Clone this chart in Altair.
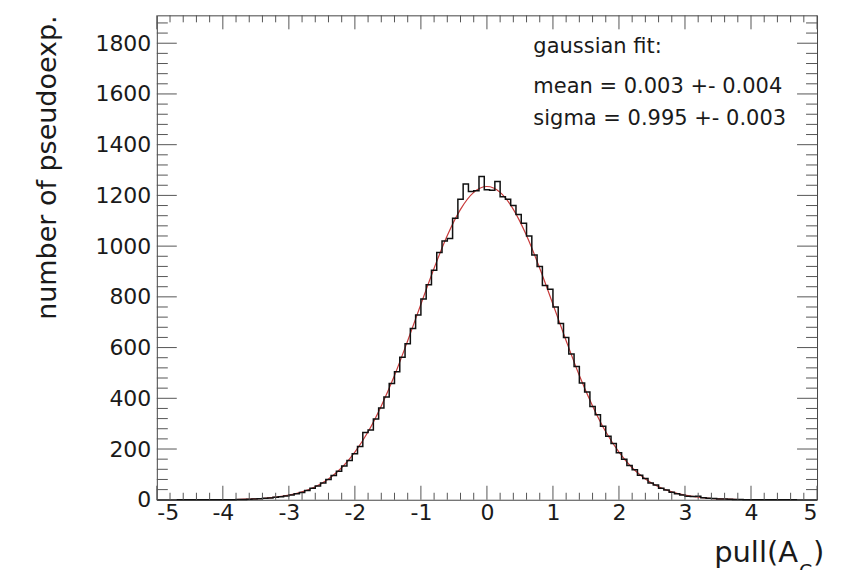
import altair as alt
import pandas as pd

# ---------------- data ----------------
X_MIN = -5.0
BIN_W = 0.08  # 125 bins on [-5, 5]

counts = (
    [0] * 15
    + [1, 1, 2, 3, 4, 6, 7, 10, 12, 15,
       19, 24, 29, 36, 45, 54, 66, 80, 96, 112,
       133, 155, 181, 210, 265, 275, 318, 362, 405, 458,
       505, 562, 615, 675, 728, 792, 848, 905, 975, 1020,
       1030, 1110, 1185, 1245, 1215, 1218, 1275]
    + [1222, 1220, 1255, 1195, 1185, 1160, 1125, 1090, 1040, 965,
       920, 845, 830, 760, 695, 640, 575, 525, 460, 425,
       368, 335, 290, 250, 222, 185, 160, 135, 118, 97,
       84, 66, 58, 45, 38, 30, 24, 19, 14, 13,
       14, 8, 6, 5, 3, 3, 2, 1, 1]
    + [0] * 14
)

fit_x = [-4.0, -3.8, -3.6, -3.4, -3.2, -3.0, -2.8, -2.6, -2.4, -2.2, -2.0,
         -1.8, -1.6, -1.4, -1.2, -1.0, -0.8, -0.6, -0.4, -0.2, 0.0,
         0.2, 0.4, 0.6, 0.8, 1.0, 1.2, 1.4, 1.6, 1.8, 2.0,
         2.2, 2.4, 2.6, 2.8, 3.0, 3.2, 3.4, 3.6, 3.8, 4.0]
fit_y = [1, 1, 3, 5, 10, 18, 31, 51, 82, 126, 188,
         268, 370, 490, 627, 771, 913, 1042, 1145, 1212, 1235,
         1212, 1145, 1042, 913, 771, 627, 490, 370, 268, 188,
         126, 82, 51, 31, 18, 10, 5, 3, 1, 1]

x_labels = [-5, -4, -3, -2, -1, 0, 1, 2, 3, 4, 5]
y_labels = [0, 200, 400, 600, 800, 1000, 1200, 1400, 1600, 1800]

fit_lines = ["gaussian fit:", "mean = 0.003 +- 0.004", "sigma = 0.995 +- 0.003"]
y_title = "number of pseudoexp."

# ---------------- layout ----------------
W, H = 661, 485
Y_MAX = 1910
FONT = "DejaVu Sans"
TXT = "#1a1a1a"
TICK = "#555555"

edges = [X_MIN + BIN_W * i for i in range(len(counts) + 1)]
hist_df = pd.DataFrame({"x": edges, "n": counts + [counts[-1]]})
fit_df = pd.DataFrame({"x": fit_x, "y": fit_y})

x_scale = alt.Scale(domain=[-5, 5], nice=False, zero=False)
y_scale = alt.Scale(domain=[0, Y_MAX], nice=False)

x_axis = alt.Axis(values=x_labels, tickSize=0, domain=False, grid=False,
                  labelFont=FONT, labelFontSize=22, labelColor=TXT,
                  labelPadding=3, title=None,
                  labelExpr="datum.value < 0 ? '-' + abs(datum.value) : '' + datum.value")
y_axis = alt.Axis(values=y_labels, tickSize=0, domain=False, grid=False,
                  labelFont=FONT, labelFontSize=22, labelColor=TXT,
                  labelPadding=6, title=None, format="d")

fit = alt.Chart(fit_df).mark_line(color="#c83a3a", strokeWidth=1.2,
                                   interpolate="monotone").encode(
    x=alt.X("x:Q", scale=x_scale, axis=x_axis),
    y=alt.Y("y:Q", scale=y_scale, axis=y_axis),
)

hist = alt.Chart(hist_df).mark_line(color="#111111", strokeWidth=1.5,
                                     interpolate="step-after").encode(
    x=alt.X("x:Q", scale=x_scale),
    y=alt.Y("n:Q", scale=y_scale),
)

# tick marks (ROOT style, pointing inwards on all four sides)
x_major = pd.DataFrame({"x": [float(v) for v in x_labels]})
x_minor = pd.DataFrame({"x": [round(-5 + 0.2 * i, 1) for i in range(51) if i % 5 != 0]})
y_major = pd.DataFrame({"y": [float(v) for v in y_labels]})
y_minor = pd.DataFrame({"y": [40 * i for i in range(48) if i % 5 != 0]})


def xticks(df, length, top):
    y0 = 0 if top else H
    y1 = length if top else H - length
    return alt.Chart(df).mark_rule(color=TICK, strokeWidth=1).encode(
        x=alt.X("x:Q", scale=x_scale), y=alt.value(y0), y2=alt.value(y1))


def yticks(df, length, right):
    x0 = W if right else 0
    x1 = W - length if right else length
    return alt.Chart(df).mark_rule(color=TICK, strokeWidth=1).encode(
        y=alt.Y("y:Q", scale=y_scale), x=alt.value(x0), x2=alt.value(x1))


ticks = [
    xticks(x_major, 14, False), xticks(x_minor, 7, False),
    xticks(x_major, 14, True), xticks(x_minor, 7, True),
    yticks(y_major, 20, False), yticks(y_minor, 11, False),
    yticks(y_major, 20, True), yticks(y_minor, 11, True),
]

one = pd.DataFrame({"d": [0]})


def label(text, x, y, size, align="left", angle=0, baseline="alphabetic"):
    kw = dict(font=FONT, fontSize=size, color=TXT, align=align, baseline=baseline)
    if angle:
        kw["angle"] = angle
    return alt.Chart(one).mark_text(**kw).encode(
        x=alt.value(x), y=alt.value(y), text=alt.value(text))


texts = [
    label(fit_lines[0], 377, 38, 21),
    label(fit_lines[1], 377, 78, 21),
    label(fit_lines[2], 377, 110, 21),
    label(y_title, -101, 0, 27, align="right", angle=270),
    label("pull(A", 642, 547, 29, align="right"),
    label("C", 643, 563, 19),
    label(")", 657, 547, 29),
]

chart = alt.layer(fit, hist, *ticks, *texts).properties(
    width=W, height=H,
    autosize=alt.AutoSizeParams(type="none"),
    padding={"left": 149, "top": 7, "right": 20, "bottom": 70},
    background="white",
).configure_view(stroke="#444444", strokeWidth=1)

chart.save("out.html", embed_options={"renderer": "svg", "actions": False})
